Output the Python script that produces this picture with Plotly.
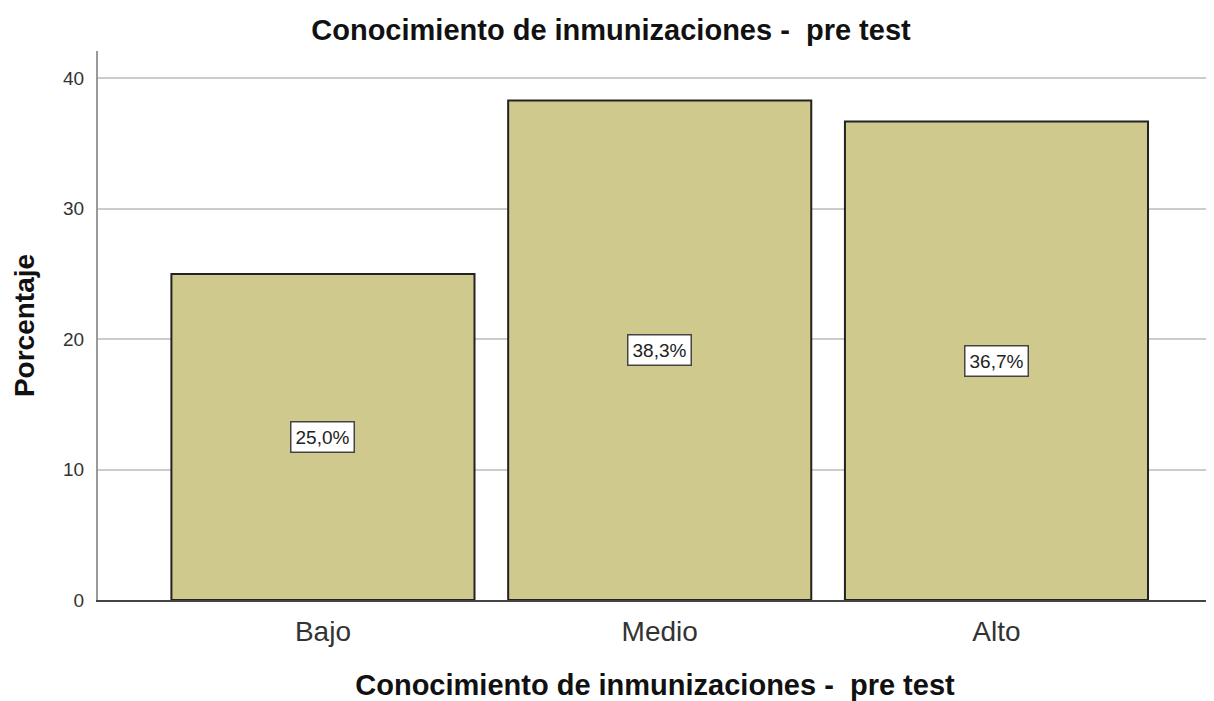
import plotly.graph_objects as go

categories = ["Bajo", "Medio", "Alto"]
percentages = [25.0, 38.3, 36.7]
value_labels = ["25,0%", "38,3%", "36,7%"]
y_ticks = [0, 10, 20, 30, 40]

FONT = "Liberation Sans, Arial, sans-serif"
BAR_COLOUR = "#D0C98E"

x_pos = list(range(len(categories)))

fig = go.Figure()

fig.add_trace(
    go.Bar(
        x=x_pos,
        y=percentages,
        width=0.9,
        marker=dict(color=BAR_COLOUR, line=dict(color="#222222", width=2)),
        hoverinfo="skip",
    )
)

# value labels sit at the middle of each bar
for xp, val, lab in zip(x_pos, percentages, value_labels):
    fig.add_annotation(
        x=xp,
        y=val / 2,
        text=lab,
        showarrow=False,
        font=dict(family=FONT, size=19, color="#222222"),
        bgcolor="white",
        bordercolor="#444444",
        borderwidth=1.5,
        borderpad=4,
    )

# page body adds ~8px margin, so the figure is a bit smaller than the window
fig.update_layout(
    width=1206,
    height=693,
    margin=dict(l=90, r=2, t=43, b=101),
    paper_bgcolor="white",
    plot_bgcolor="white",
    showlegend=False,
    title=dict(
        text="<b>Conocimiento de inmunizaciones -  pre test</b>",
        x=0.5,
        xanchor="center",
        y=0.968,
        yanchor="middle",
        font=dict(family=FONT, size=29, color="#111111"),
    ),
)

fig.update_xaxes(
    range=[-0.668, 2.64],
    tickvals=x_pos,
    ticktext=categories,
    tickfont=dict(family=FONT, size=28, color="#333333"),
    ticks="outside",
    ticklen=6,
    tickcolor="rgba(0,0,0,0)",
    showgrid=False,
    zeroline=False,
    showline=True,
    linecolor="#444444",
    linewidth=1.5,
    title=dict(
        text="<b>Conocimiento de inmunizaciones -  pre test</b>",
        font=dict(family=FONT, size=29, color="#111111"),
        standoff=32,
    ),
)

fig.update_yaxes(
    range=[0, 42.1],
    tickvals=y_ticks,
    tickfont=dict(family=FONT, size=19, color="#333333"),
    ticks="outside",
    ticklen=8,
    tickcolor="rgba(0,0,0,0)",
    showgrid=True,
    gridcolor="#CCCCCC",
    gridwidth=2,
    zeroline=False,
    showline=True,
    linecolor="#999999",
    linewidth=2,
    title=dict(
        text="<b>Porcentaje</b>",
        font=dict(family=FONT, size=28, color="#111111"),
        standoff=20,
    ),
)

fig.write_html("out.html")
